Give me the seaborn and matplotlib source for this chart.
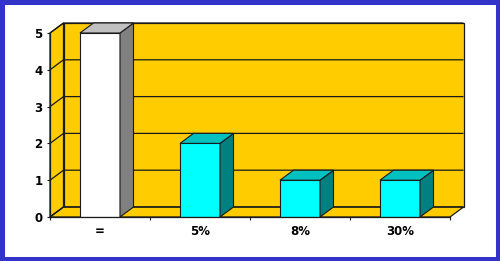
import matplotlib
matplotlib.use("Agg")
import matplotlib.pyplot as plt
from matplotlib.patches import Polygon, Rectangle
import seaborn as sns
import pandas as pd

# ---- data ----
categories = ["=", "5%", "8%", "30%"]
values = [5, 2, 1, 1]
y_ticks = [0, 1, 2, 3, 4, 5]

# ---- styling ----
front_colors = ["#FFFFFF", "#00FFFF", "#00FFFF", "#00FFFF"]
side_colors = ["#808080", "#008080", "#008080", "#008080"]
top_colors = ["#C0C0C0", "#00C0C0", "#00C0C0", "#00C0C0"]
WALL = "#FFCC00"
EDGE = "#1a1a1a"
FRAME = "#3333CC"
DX_PX, DY_PX = 13.5, 10.0

sns.set_theme(style="white")
plt.rcParams["font.family"] = ["DejaVu Sans"]

DPI = 100
fig = plt.figure(figsize=(5.0, 2.61), dpi=DPI, facecolor="white")
ax = fig.add_axes([50 / 500, 44 / 261, 400 / 500, 184 / 261])
ax.set_facecolor("none")

df = pd.DataFrame({"cat": categories, "val": values})
sns.barplot(data=df, x="cat", y="val", hue="cat", palette=front_colors,
            legend=False, width=0.4, edgecolor=EDGE, linewidth=0.8,
            saturation=1, ax=ax, zorder=3)

ax.set_xlim(-0.5, len(categories) - 0.5)
ax.set_ylim(y_ticks[0], y_ticks[-1])
fig.canvas.draw()
bb = ax.get_window_extent()
x0, x1 = ax.get_xlim()
y0, y1 = ax.get_ylim()
dx = DX_PX * (x1 - x0) / bb.width
dy = DY_PX * (y1 - y0) / bb.height

# walls
wall_kw = dict(facecolor=WALL, edgecolor=EDGE, linewidth=0.9, clip_on=False)
ax.add_patch(Polygon([(x0, y0), (x0, y1), (x0 + dx, y1 + dy), (x0 + dx, y0 + dy)],
                     zorder=0.5, **wall_kw))
ax.add_patch(Polygon([(x0, y0), (x1, y0), (x1 + dx, y0 + dy), (x0 + dx, y0 + dy)],
                     zorder=0.5, **wall_kw))
ax.add_patch(Rectangle((x0 + dx, y0 + dy), x1 - x0, y1 - y0, zorder=0.4, **wall_kw))
for t in y_ticks:
    ax.plot([x0, x0 + dx, x1 + dx], [t, t + dy, t + dy], color=EDGE, lw=0.9,
            zorder=0.6, clip_on=False, solid_capstyle="butt")

# 3D sides and tops of bars
bars = [p for p in ax.patches if isinstance(p, Rectangle) and p.get_zorder() == 3]
for i, p in enumerate(bars):
    bx, bw, bh = p.get_x(), p.get_width(), p.get_height()
    side = Polygon([(bx + bw, 0), (bx + bw, bh), (bx + bw + dx, bh + dy), (bx + bw + dx, dy)],
                   facecolor=side_colors[i], edgecolor=EDGE, linewidth=0.8,
                   zorder=3, clip_on=False)
    top = Polygon([(bx, bh), (bx + bw, bh), (bx + bw + dx, bh + dy), (bx + dx, bh + dy)],
                  facecolor=top_colors[i], edgecolor=EDGE, linewidth=0.8,
                  zorder=3, clip_on=False)
    ax.add_patch(side)
    ax.add_patch(top)

# axes
for s in ["top", "right"]:
    ax.spines[s].set_visible(False)
for s in ["left", "bottom"]:
    ax.spines[s].set_color(EDGE)
    ax.spines[s].set_linewidth(0.9)
    ax.spines[s].set_zorder(4)

ax.set_xlabel("")
ax.set_ylabel("")
ax.set_yticks(y_ticks)
ax.set_yticklabels([str(t) for t in y_ticks], fontsize=8.5, fontweight="bold")
ax.set_xticks(range(len(categories)))
ax.set_xticklabels(categories, fontsize=8.5, fontweight="bold")
ax.set_xticks([i + 0.5 for i in range(-1, len(categories))], minor=True)
ax.tick_params(axis="y", which="major", direction="out", length=2.5, width=0.8,
               color=EDGE, pad=3, left=True, labelcolor="black")
ax.tick_params(axis="x", which="major", length=0, pad=5.5, labelcolor="black")
ax.tick_params(axis="x", which="minor", direction="out", length=2.5, width=0.8,
               color=EDGE, bottom=True)

# blue frame
fig.patches.append(Rectangle((0, 0), 1, 1, transform=fig.transFigure,
                             fill=False, edgecolor=FRAME, linewidth=6.5,
                             zorder=10))

fig.savefig("out.png", dpi=DPI, facecolor="white")
